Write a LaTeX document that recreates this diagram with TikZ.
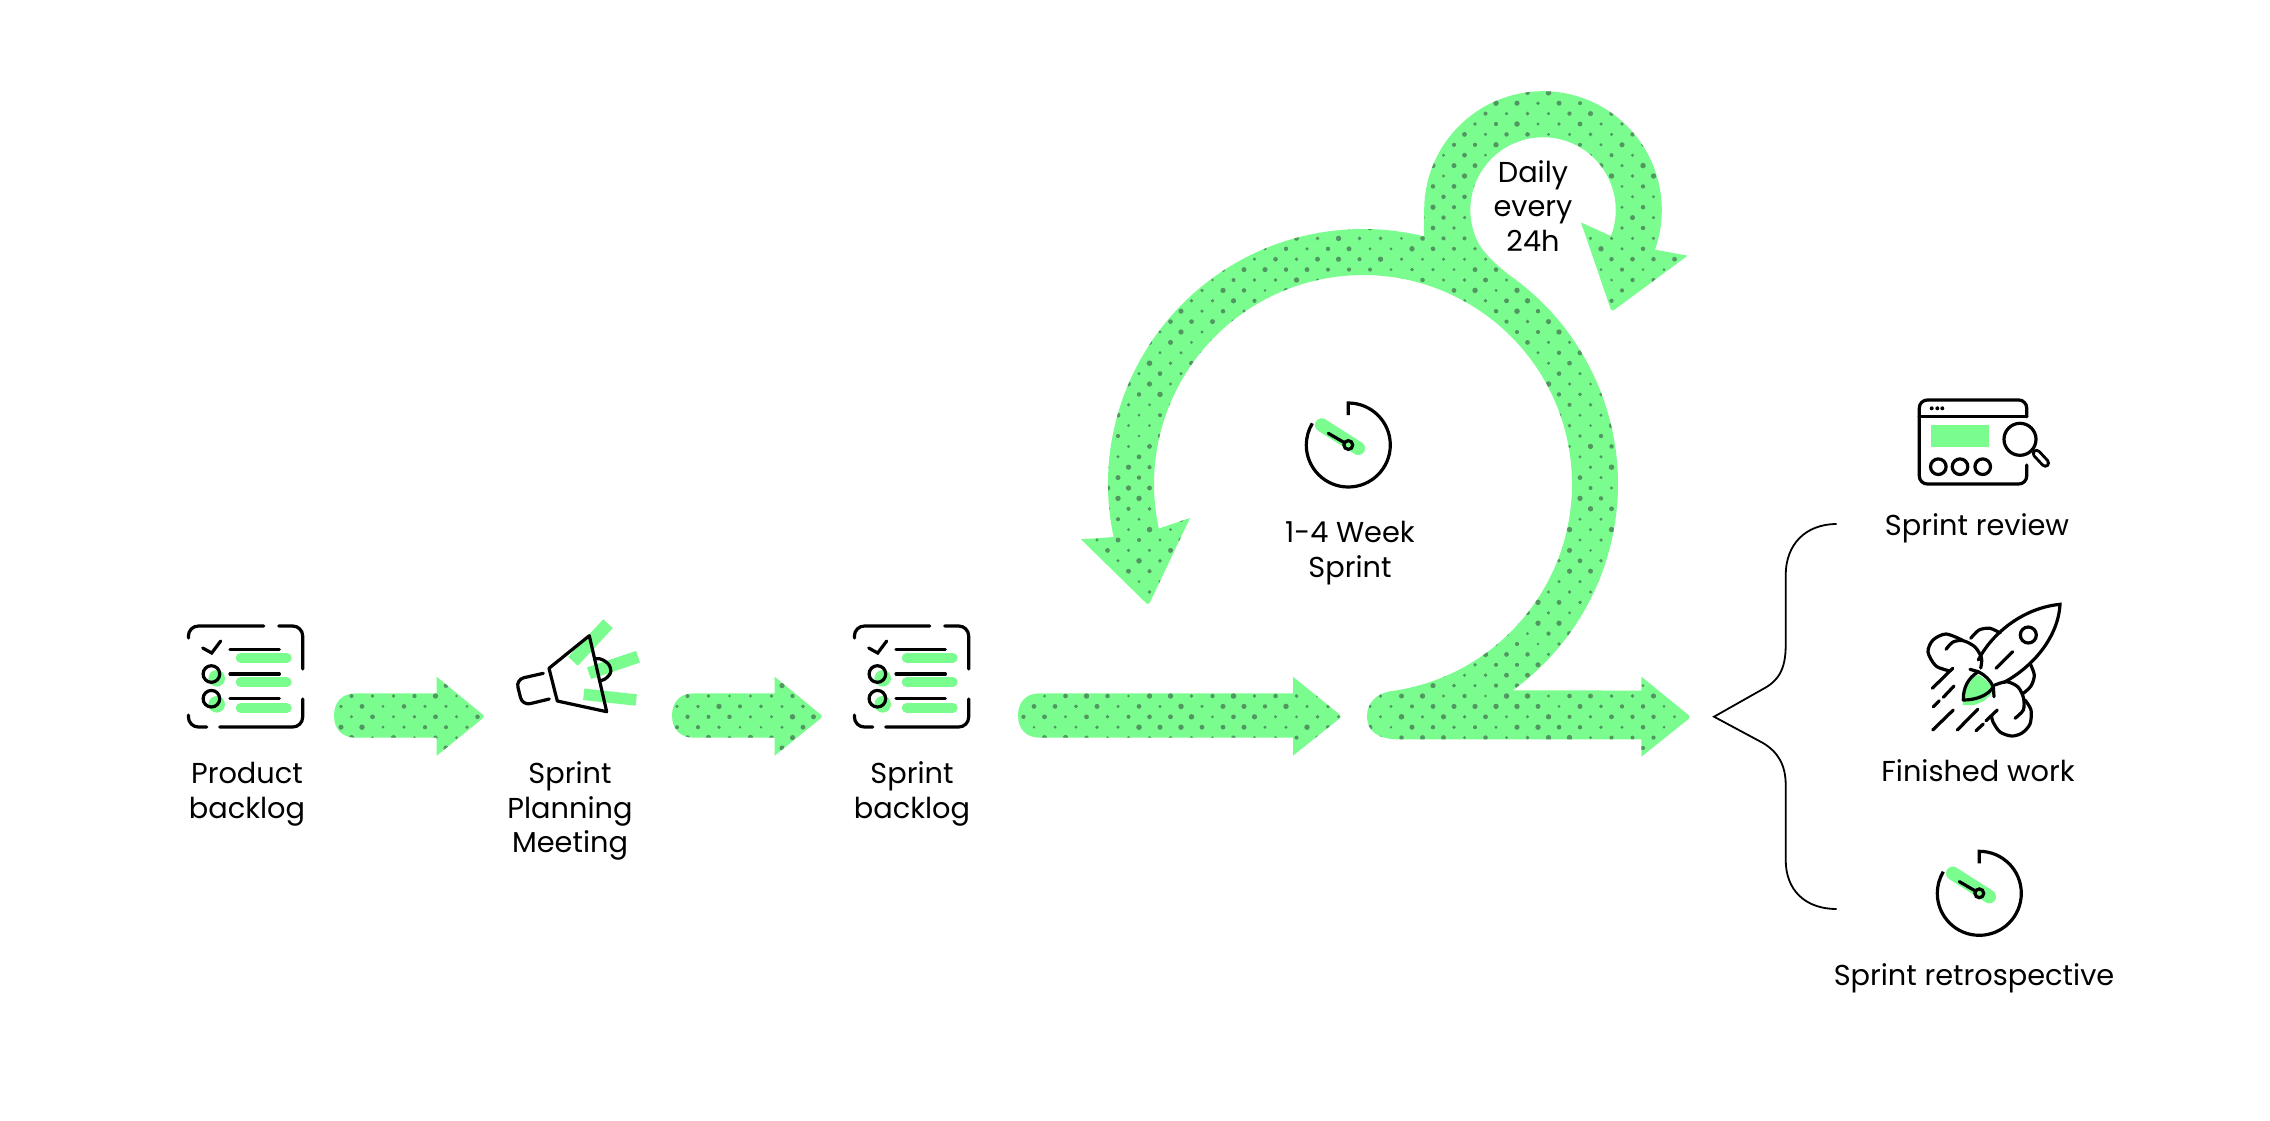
\documentclass[tikz,border=0pt]{standalone}
\usepackage{fontspec}
\setmainfont{Poppins}
\usetikzlibrary{arrows.meta, positioning}

\definecolor{sprintgreen}{RGB}{122,253,142}
\definecolor{dotgreen}{RGB}{82,150,98}

% Dots on one staggered grid: first col, last col, first row, last row
\newcommand{\dotfield}[4]{%
    \foreach \row in {#3,...,#4} {
        \foreach \col in {#1,...,#2} {
            \pgfmathsetmacro{\dotx}{309.5+21*\col+10.5*mod(\row,2)}
            \pgfmathsetmacro{\doty}{92.8+10.4*\row}
            \pgfmathsetmacro{\dotr}{1.4+1.4*rnd}
            \fill[dotgreen] (\dotx,\doty) circle[radius=\dotr pt];
        }
    }%
}

% Fat arrow: left end, head base, tip
\newcommand{\fatarrow}[3]{%
    \def\arrowoutline{(#1+22,693.3) -- (#2,693.3) -- (#2,676.7) [rounded corners=3pt] -- (#3,716.5) [sharp corners] -- (#2,755.7) -- (#2,737.7) -- (#1+22,737.7) .. controls (#1+8,737.7) and (#1,729) .. (#1,715.5) .. controls (#1,702) and (#1+8,693.3) .. (#1+22,693.3) -- cycle}%
}

\begin{document}
\begin{tikzpicture}[
    x=1pt, y=-1pt,
    iconline/.style={black, line width=3.2pt, line cap=round}, % Style for icon strokes
    thinline/.style={black, line width=1.8pt}, % Style for the brace
    greenbar/.style={sprintgreen, line width=10pt, line cap=round}, % Style for icon highlights
    steplabel/.style={align=center, font=\fontsize{28.8}{34.6}\selectfont}, % Style for all texts
    listicon/.pic={
        \draw[greenbar] (53,31.8) -- (99,31.8);
        \draw[greenbar] (53,56.3) -- (99,56.3);
        \draw[greenbar] (53,81.7) -- (99,81.7);
        \fill[sprintgreen] (29,52.3) circle[radius=8.3pt];
        \fill[sprintgreen] (29,78.3) circle[radius=8.3pt];
        \draw[iconline, rounded corners=10pt] (0.7,12) -- (0.7,0) -- (76,0);
        \draw[iconline, rounded corners=10pt] (91,0) -- (115,0) -- (115,43);
        \draw[iconline, rounded corners=10pt] (115,73) -- (115,101) -- (32,101);
        \draw[iconline, rounded corners=10pt] (19,101) -- (0.7,101) -- (0.7,89);
        \draw[iconline] (15,22) -- (24,27) -- (33,15);
        \draw[iconline] (42.3,23.7) -- (91.7,23.7);
        \draw[iconline] (42.3,48) -- (91.7,48);
        \draw[iconline] (42.3,72.7) -- (91.7,72.7);
        \draw[iconline] (23.7,48) circle[radius=8.3pt];
        \draw[iconline] (23.7,72.7) circle[radius=8.3pt];
    },
    clockicon/.pic={
        \draw[sprintgreen, line width=13.5pt, line cap=round] (-26.6,-20) -- (10,3.3);
        \draw[iconline, line cap=butt] (0,-30) -- (0,-42) arc[start angle=90, end angle=-211, radius=42pt];
        \draw[iconline] (-20,-11.7) -- (0,0);
        \draw[iconline, fill=sprintgreen] (0,0) circle[radius=4.4pt];
    }
]
    \useasboundingbox (0,0) rectangle (2270,1120);
    \pgfmathsetseed{2270}

    % Arrows in the row
    \fatarrow{334}{436.7}{485}
    \fill[sprintgreen] \arrowoutline;
    \begin{scope}
        \clip \arrowoutline;
        \dotfield{0}{9}{56}{64}
    \end{scope}

    \fatarrow{672}{774.7}{823}
    \fill[sprintgreen] \arrowoutline;
    \begin{scope}
        \clip \arrowoutline;
        \dotfield{16}{25}{56}{64}
    \end{scope}

    \fatarrow{1018}{1293}{1342}
    \fill[sprintgreen] \arrowoutline;
    \begin{scope}
        \clip \arrowoutline;
        \dotfield{33}{50}{56}{64}
    \end{scope}

    % The two loops and the way out, as one shape
    \def\loopoutline{(1389.9,691.3) arc[start angle=-82.6, end angle=192.3, radius=209pt]
        -- (1190,518) [rounded corners=3pt] -- (1148.5,605.4) [sharp corners] -- (1081,539.3) -- (1113.6,537)
        arc[start angle=192, end angle=76.2, radius=255pt]
        -- (1424.2,210) arc[start angle=180, end angle=-19.5, radius=118.8pt]
        -- (1687.5,255.7) [rounded corners=3pt] -- (1611.6,311.8) [sharp corners] -- (1581,222.5) -- (1610.9,236)
        arc[start angle=-21, end angle=205, radius=72.7pt]
        .. controls (1483.3,254.3) and (1502,270) .. (1514.3,278.7)
        arc[start angle=53.6, end angle=-54, radius=255pt]
        -- (1641.4,690.6) -- (1641.4,676.7) [rounded corners=3pt] -- (1691,717) [sharp corners] -- (1641.4,756.7) -- (1641.4,739.3) -- (1399,739.3)
        .. controls (1380,739.3) and (1367,733) .. (1367,716) .. controls (1367,703) and (1376,694) .. (1389.9,691.3) -- cycle}
    \fill[sprintgreen] \loopoutline;
    \begin{scope}
        \clip \loopoutline;
        \dotfield{35}{66}{0}{64}
    \end{scope}

    % Icons
    \pic (productlist) at (187.7,626) {listicon};
    \pic (sprintlist) at (853.7,626) {listicon};
    \pic (weekclock) at (1348.3,445) {clockicon};
    \pic (retroclock) at (1979.3,893.3) {clockicon};

    % Megaphone
    \draw[sprintgreen, line width=13pt] (608,623.7) -- (573,661.3);
    \draw[sprintgreen, line width=12.3pt] (638,656.7) -- (589,673.3);
    \draw[sprintgreen, line width=11.5pt] (583.7,694.3) -- (636.3,700);
    \draw[iconline, line join=round] (589.3,635.7) -- (549,668.3) -- (557.3,701) -- (606.7,711.7) -- cycle;
    \draw[iconline, line cap=butt] plot [smooth, tension=0.9] coordinates {(594.3,659) (603,660) (610.5,668.5) (607,677.5) (599,680.7)};
    \draw[iconline, rounded corners=8pt] (543.3,673.3) -- (516,679.5) -- (522.5,705.5) -- (549.3,699);

    % Browser window and lens
    \fill[sprintgreen] (1930.7,425) rectangle (1989,447);
    \draw[iconline, rounded corners=8pt] (2026.7,465) -- (2026.7,484) -- (1919.3,484) -- (1919.3,400) -- (2026.7,400) -- (2026.7,416.7);
    \draw[iconline] (1919.3,416.7) -- (2026.7,416.7);
    \foreach \dotx in {1931.7,1937.3,1942.3}
        \fill[black] (\dotx,408.3) circle[radius=2pt];
    \foreach \dotx in {1938.3,1960,1982.7}
        \draw[iconline] (\dotx,466.7) circle[radius=7.8pt];
    \draw[iconline] (2020,439.3) circle[radius=16pt];
    \draw[black, line width=9.5pt, line cap=round] (2036.5,453.5) -- (2045.3,463);
    \draw[white, line width=3.6pt, line cap=round] (2036.5,453.5) -- (2045.3,463);

    % Rocket
    \fill[sprintgreen] plot [smooth] coordinates {(1962.5,705) (1967,687) (1978,675) (1993,689) (1985,700) (1974,705)};
    \draw[iconline] (2003.3,682.7) .. controls (2033.3,666.7) and (2058.3,636.7) .. (2060,604.3) .. controls (2020,608.3) and (1990,636.7) .. (1978.3,660);
    \draw[iconline] (2028.3,635) circle[radius=8pt];
    \draw[iconline] (1996,668.3) -- (2012.7,651.7);
    \draw[iconline] (1970,669.3) -- (1978.3,671.7);
    \draw[iconline] (1993.3,686.7) -- (1994,696.7);
    \draw[iconline, line join=round] (1963.3,700) .. controls (1963,688) and (1968,678) .. (1978.3,671.7) .. controls (1985,675) and (1990,680) .. (1993.3,686.7) .. controls (1988,696) and (1975,700) .. (1963.3,700) -- cycle;
    \draw[iconline] plot [smooth] coordinates {(1950,671) (1936,666) (1928,652) (1933,640) (1946,634) (1962,640)};
    \draw[iconline] plot [smooth] coordinates {(1946,649.3) (1953,642) (1963.3,640.7) (1975,647) (1981.5,658) (1980.7,668)};
    \draw[iconline] plot [smooth] coordinates {(1970.7,638.3) (1979,630) (1990,628.3) (2000,633)};
    \draw[iconline] plot [smooth] coordinates {(2030,663.3) (2034.3,675) (2031,686) (2023.3,693.3)};
    \draw[iconline] plot [smooth] coordinates {(1995,685) (2006.7,681.7) (2018,687) (2023.5,698) (2023.3,710) (2015,718.3)};
    \draw[iconline] plot [smooth] coordinates {(2025,700) (2031,710) (2030,724) (2022,733) (2011.7,736) (2000,732) (1993,722) (1991.7,716.7)};
    \draw[iconline] (1932.3,688.3) -- (1952.7,668.3);
    \draw[iconline] (1933.3,706.7) -- (1939.3,700.7);
    \draw[iconline] (1943.3,697.3) -- (1954,686);
    \draw[iconline] (1932.7,730) -- (1953.3,710);
    \draw[iconline] (1957.3,730) -- (1977.7,709.3);
    \draw[iconline] (1976,730.7) -- (1983.3,724);
    \draw[iconline] (1986,720.7) -- (1997.3,710);

    % Brace
    \coordinate (bracetop) at (1836.7,524);
    \coordinate (bracetip) at (1714,716.7);
    \coordinate (bracebottom) at (1836.7,909);
    \draw[thinline, line join=miter] (bracetop) .. controls (1805,524) and (1785.7,545) .. (1785.7,575) -- (1785.7,645) .. controls (1785.7,670) and (1778,681) .. (1763,689) -- (bracetip) -- (1763,743) .. controls (1778,752) and (1785.7,765) .. (1785.7,785) -- (1785.7,860) .. controls (1785.7,890) and (1805,909) .. (bracebottom);

    % Labels
    \node[steplabel] (productlabel) at (247,794) {Product\\backlog};
    \node[steplabel] (planninglabel) at (570,811) {Sprint\\Planning\\Meeting};
    \node[steplabel] (backloglabel) at (912,794) {Sprint\\backlog};
    \node[steplabel] (weeklabel) at (1350,553) {1-4 Week\\Sprint};
    \node[steplabel] (dailylabel) at (1533,206) {Daily\\every\\24h};
    \node[steplabel] (reviewlabel) at (1977,528) {Sprint review};
    \node[steplabel] (workedlabel) at (1978,771) {Finished work};
    \node[steplabel] (retrolabel) at (1974,978) {Sprint retrospective};

\end{tikzpicture}
\end{document}
